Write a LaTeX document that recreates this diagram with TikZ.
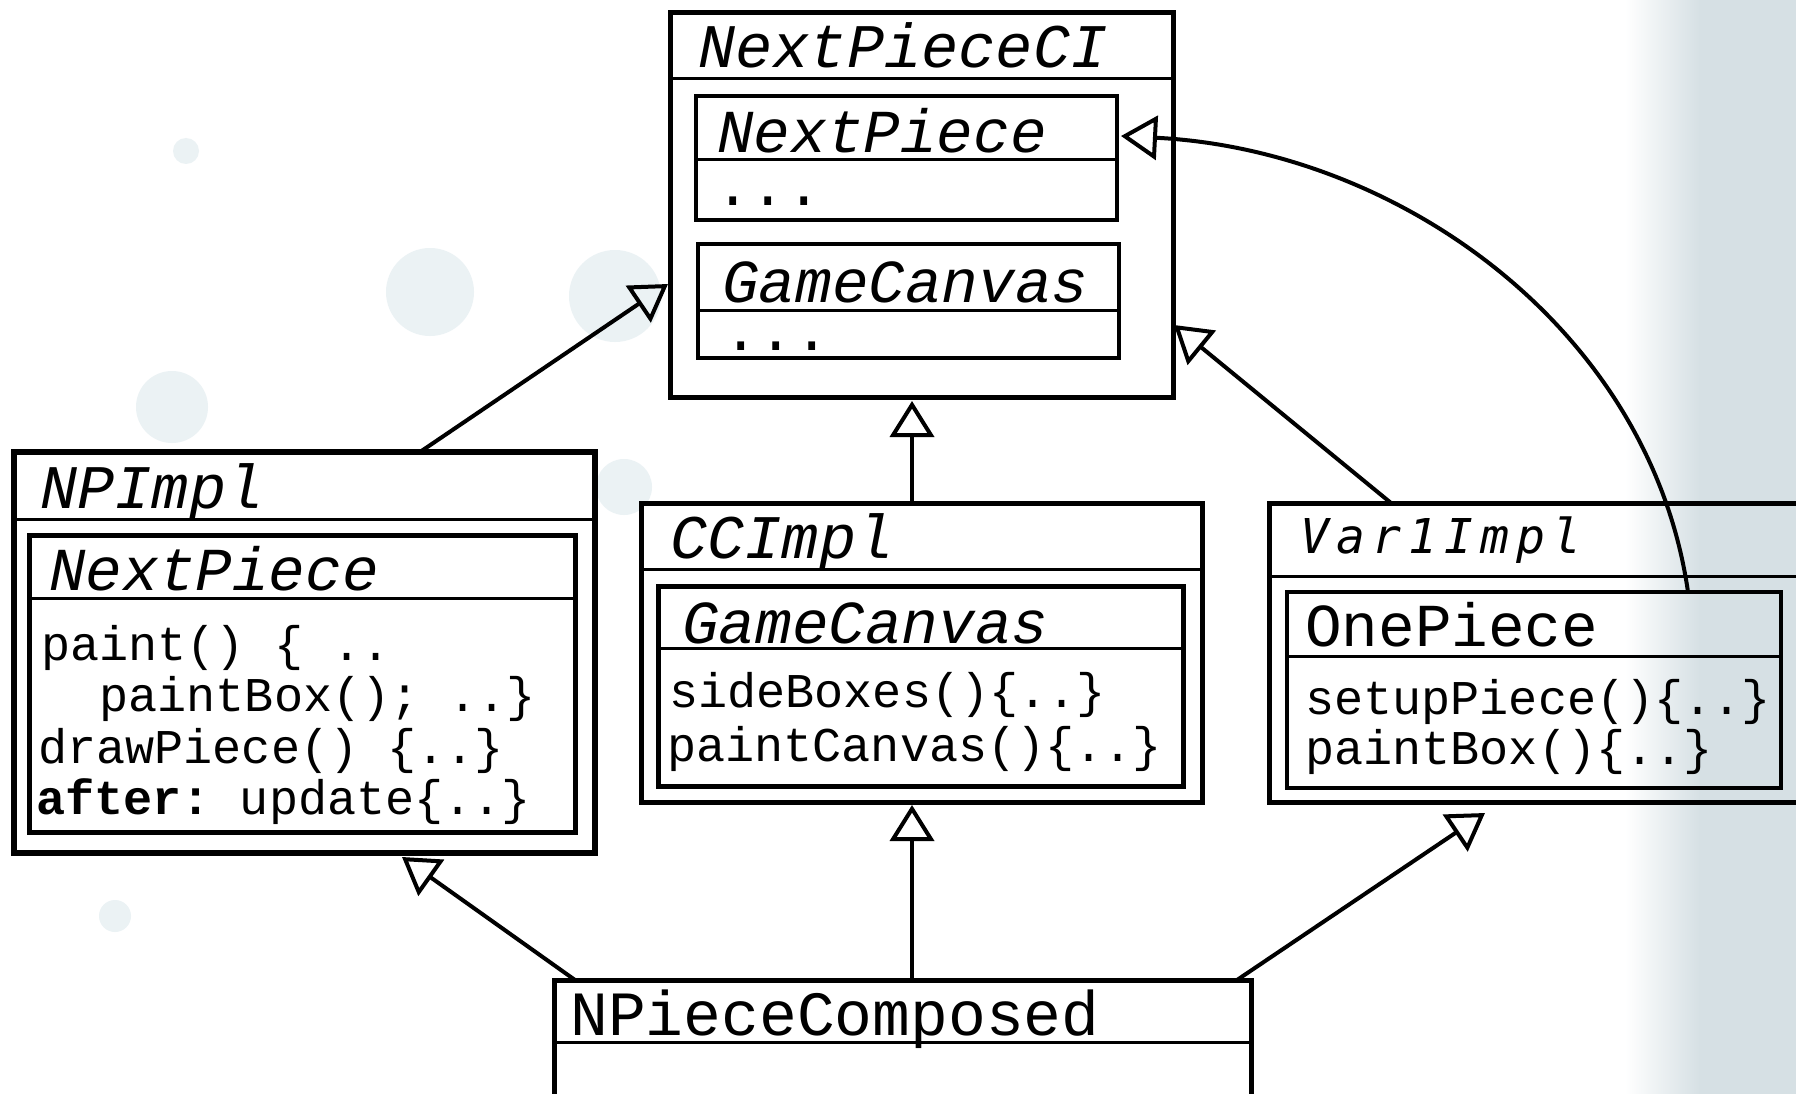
\documentclass[tikz,border=0pt]{standalone}
\usepackage{fontspec}
\setmonofont{Liberation Mono}
\newfontfamily\vfont[LetterSpace=15]{DejaVu Sans Mono}
\usetikzlibrary{arrows.meta}
\definecolor{bub}{RGB}{230,239,242}
\definecolor{edgebg}{RGB}{214,224,228}
\begin{document}
\begin{tikzpicture}[x=1pt,y=-1pt,
  obox/.style={draw, line width=5pt, inner sep=0pt, outer sep=0pt, rectangle},
  ibox/.style={draw, line width=3.5pt, inner sep=0pt, outer sep=0pt, rectangle},
  sepl/.style={line width=3pt},
  conn/.style={line width=4pt, -{Triangle[open, length=36pt, width=44pt]}},
  hd/.style={anchor=base west, inner sep=0pt, font=\fontsize{62}{62}\selectfont\ttfamily\itshape},
  hdi/.style={anchor=base west, inner sep=0pt, font=\fontsize{61}{61}\selectfont\ttfamily\itshape},
  hdu/.style={anchor=base west, inner sep=0pt, font=\fontsize{62}{62}\selectfont\ttfamily},
  dots/.style={anchor=base west, inner sep=0pt, text height=8pt, text depth=0pt, font=\fontsize{59}{59}\selectfont\ttfamily},
  meth/.style={anchor=base west, inner sep=0pt, font=\fontsize{48.5}{48.5}\selectfont\ttfamily},
  bubble/.style={fill=bub, draw=none, opacity=0.8}]
\useasboundingbox (0,0) rectangle (1796,1094);
\clip (0,0) rectangle (1796,1094);
\fill[white] (0,0) rectangle (1796,1094);
% background decoration
\shade[left color=white, right color=edgebg] (1625,0) rectangle (1700,1094);
\fill[edgebg] (1699,0) rectangle (1796,1094);
\fill[bubble] (186,151) circle (13);
\fill[bubble] (430,292) circle (44);
\fill[bubble] (615,296) circle (46);
\fill[bubble] (172,407) circle (36);
\fill[bubble] (624,487) circle (28);
\fill[bubble] (115,916) circle (16);

% NextPieceCI
\node[obox, minimum width=503pt, minimum height=384pt] (ci) at (921.5,205) {};
\draw[sepl] (ci.west |- 0,79) -- (ci.east |- 0,79);
\node[hd] (tci) at (698,68) {NextPieceCI};
\node[ibox, minimum width=421pt, minimum height=124pt] (cinp) at (906.5,158) {};
\draw[sepl] (cinp.west |- 0,160) -- (cinp.east |- 0,160);
\node[hdi] (tcinp) at (717,153) {NextPiece};
\node[dots] (tcinpd) at (715,206) {...};
\node[ibox, minimum width=421pt, minimum height=114pt] (cigc) at (908.5,301) {};
\draw[sepl] (cigc.west |- 0,310) -- (cigc.east |- 0,310);
\node[hdi] (tcigc) at (722,302) {GameCanvas};
\node[dots] (tcigcd) at (723,350) {...};

% NPImpl
\node[obox, line width=6pt, minimum width=581pt, minimum height=401pt] (npimpl) at (304.5,652.5) {};
\draw[sepl] (npimpl.west |- 0,519) -- (npimpl.east |- 0,519);
\node[hd] (tnpimpl) at (40,508) {NPImpl};
\node[obox, minimum width=546pt, minimum height=297pt] (npin) at (302,683.5) {};
\draw[sepl] (npin.west |- 0,598) -- (npin.east |- 0,598);
\node[hdi] (tnpin) at (49,590) {NextPiece};
\node[meth] (m1) at (41,660) {paint()~\{~..};
\node[meth] (m2) at (41,711) {~~paintBox();~..\}};
\node[meth] (m3) at (38,763) {drawPiece()~\{..\}};
\node[meth] (m4) at (36,814) {\bfseries after:\mdseries~update\{..\}};

% CCImpl
\node[obox, minimum width=561pt, minimum height=299pt] (cc) at (921.5,652.5) {};
\draw[sepl] (cc.west |- 0,569) -- (cc.east |- 0,569);
\node[hd] (tcc) at (670,558) {CCImpl};
\node[obox, minimum width=525pt, minimum height=200pt] (ccin) at (920.5,686) {};
\draw[sepl] (ccin.west |- 0,648) -- (ccin.east |- 0,648);
\node[hdi] (tccin) at (682,643) {GameCanvas};
\node[meth] (m5) at (669,707) {sideBoxes()\{..\}};
\node[meth] (m6) at (667,761) {paintCanvas()\{..\}};

% Var1Impl
\node[obox, minimum width=541pt, minimum height=299pt] (var) at (1539.5,652.5) {};
\draw[sepl] (var.west |- 0,576) -- (var.east |- 0,576);
\node[anchor=base west, inner sep=0pt, font=\fontsize{48}{48}\selectfont\vfont\itshape] (tvar) at (1300,553) {Var1Impl};
\node[ibox, minimum width=494pt, minimum height=196pt] (varin) at (1534,690) {};
\draw[sepl] (varin.west |- 0,656) -- (varin.east |- 0,656);
\node[hdu, font=\fontsize{61}{61}\selectfont\ttfamily] (tvarin) at (1305,646) {OnePiece};
\node[meth] (m7) at (1305,714) {setupPiece()\{..\}};
\node[meth] (m8) at (1305,764) {paintBox()\{..\}};

% NPieceComposed
\node[obox, minimum width=697pt, minimum height=150pt] (comp) at (902.5,1055) {};
\draw[sepl] (comp.west |- 0,1042) -- (comp.east |- 0,1042);
\node[hdu, font=\fontsize{63}{63}\selectfont\ttfamily] (tcomp) at (570,1035) {NPieceComposed};

% connectors
\draw[conn] ([xshift=406pt]npimpl.north west) -- ([xshift=-2pt,yshift=-271pt]ci.north west);
\draw[conn] ([xshift=271pt]cc.north west) -- ([xshift=242pt,yshift=-4pt]ci.south west);
\draw[conn] ([xshift=122pt]var.north west) -- ([xshift=1pt,yshift=-312pt]ci.north east);
\draw[conn] ([xshift=401pt]varin.north west) .. controls (1650,330) and (1400,150) .. ([xshift=4pt,yshift=-40pt]cinp.north east);
\draw[conn] ([xshift=21pt]comp.north west) -- ([xshift=388pt,yshift=-4pt]npimpl.south west);
\draw[conn] ([xshift=358pt]comp.north west) -- ([xshift=271pt,yshift=-3pt]cc.south west);
\draw[conn] ([xshift=683pt]comp.north west) -- ([xshift=216pt,yshift=-11pt]var.south west);
\end{tikzpicture}
\end{document}
